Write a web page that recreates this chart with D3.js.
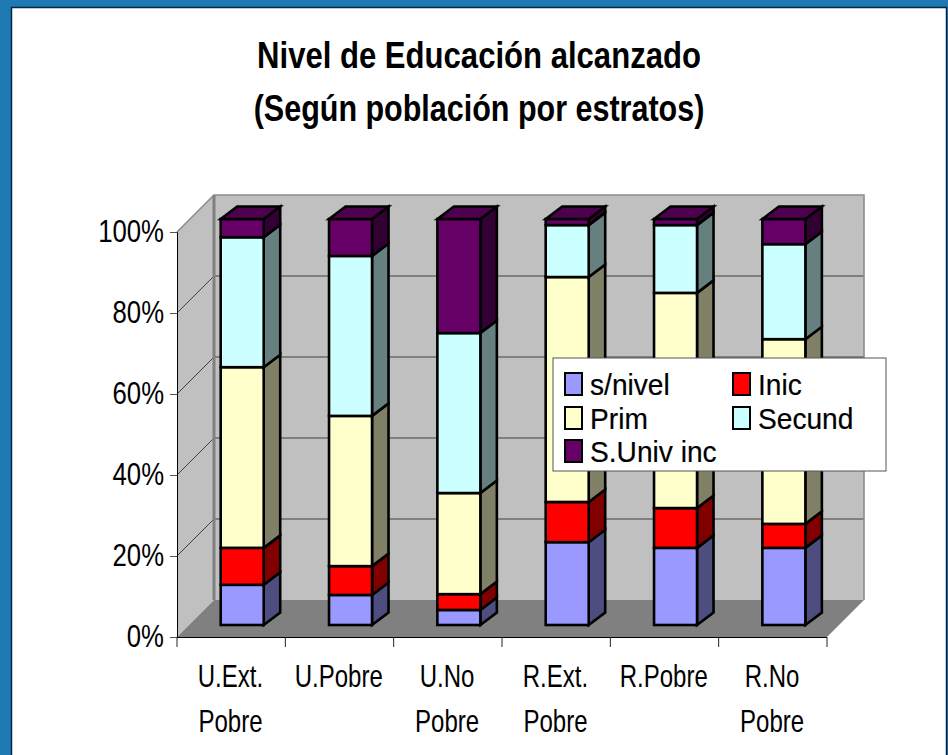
<!DOCTYPE html>
<html><head><meta charset="utf-8">
<script src="https://cdnjs.cloudflare.com/ajax/libs/d3/7.8.5/d3.min.js"></script>
<style>html,body{margin:0;padding:0;background:#fff}svg{display:block}text{font-family:"Liberation Sans",Arial,sans-serif;fill:#000}</style>
</head><body><svg id="c" width="948" height="755"></svg>
<script>
const titleLines = ["Nivel de Educación alcanzado", "(Según población por estratos)"];
const categories = [["U.Ext.","Pobre"],["U.Pobre",""],["U.No","Pobre"],["R.Ext.","Pobre"],["R.Pobre",""],["R.No","Pobre"]];
const seriesNames = ["s/nivel","Inic","Prim","Secund","S.Univ inc"];
const sNivel = [9.9,7.4,3.7,20.4,19.0,19.0];
const inic   = [9.1,7.1,3.9,9.9,9.8,5.9];
const prim   = [44.5,37.0,24.9,55.4,53.0,45.5];
const secund = [32.0,39.4,39.4,12.8,16.7,23.4];
const sUniv  = [4.5,9.1,28.1,1.5,1.5,6.2];
const yTicks = [0,20,40,60,80,100];

const front = ["#9999ff","#ff0000","#ffffcc","#ccffff","#660066"];
const side  = ["#4d4d80","#800000","#808066","#668080","#330033"];
const topFace = "#4d004d";

const svg = d3.select("#c");
svg.append("rect").attr("width",948).attr("height",755).attr("fill","#1f7ab3");
svg.append("path").attr("d","M11.5 755V7.5H946.5V755").attr("fill","#fff").attr("stroke","#04264a").attr("stroke-width",1.5);

const L=177,R=827,B=637,T=232,D=37;
const band = d3.scaleBand().domain(categories.map((d,i)=>i)).range([L,R]);
const yAxisScale = d3.scaleLinear().domain([0,100]).range([B,T]);
const yBar = d3.scaleLinear().domain([0,100]).range([625,219]);
const wallY = v => yAxisScale(v)-D;

const poly=(pts,fill)=>svg.append("polygon").attr("points",pts.map(p=>p.join(",")).join(" ")).attr("fill",fill);
poly([[L,T],[L+D,T-D],[L+D,B-D],[L,B]],"#c0c0c0");
poly([[L+D,T-D],[R+D,T-D],[R+D,B-D],[L+D,B-D]],"#c0c0c0");
poly([[L,B],[L+D,B-D],[R+D,B-D],[R,B]],"#808080");
svg.append("g").selectAll("path").data(yTicks.slice(1,5)).join("path")
  .attr("d",v=>`M${L} ${yAxisScale(v)}L${L+D} ${wallY(v)}H${R+D}`)
  .attr("fill","none").attr("stroke","#404040").attr("stroke-width",1);
svg.append("path").attr("d",`M${L} ${T}L${L+D} ${T-D}H${R+D}V${B-D}`).attr("fill","none").attr("stroke","#8c8c8c").attr("stroke-width",1.6);
svg.append("path").attr("d",`M${L+D} ${T-D}V${B-D}`).attr("stroke","#808080").attr("stroke-width",3);

const rows = categories.map((c,i)=>({i,a:sNivel[i],b:inic[i],c:prim[i],d:secund[i],e:sUniv[i]}));
const keys=["a","b","c","d","e"];
const stack=d3.stack().keys(keys)(rows);
const barOffset=43.7, barW=43, dx=16.5, dy=12.5;
const gBars=svg.append("g").attr("stroke","#000").attr("stroke-width",2.6).attr("stroke-linejoin","miter");
stack.forEach((s,k)=>{
  const g=gBars.append("g");
  s.forEach(d=>{
    const x0=band(d.data.i)+barOffset, x1=x0+barW, y0=yBar(d[0]), y1=yBar(d[1]);
    g.append("polygon").attr("fill",side[k]).attr("points",`${x1},${y0} ${x1+dx},${y0-dy} ${x1+dx},${y1-dy} ${x1},${y1}`);
    g.append("rect").attr("fill",front[k]).attr("x",x0).attr("y",y1).attr("width",barW).attr("height",y0-y1);
    if(k===keys.length-1) g.append("polygon").attr("fill",topFace).attr("points",`${x0},${y1} ${x0+dx},${y1-dy} ${x1+dx},${y1-dy} ${x1},${y1}`);
  });
});

const squeeze=(sel,f)=>sel.each(function(){const n=this.getComputedTextLength();if(n>0){this.setAttribute("textLength",n*f);this.setAttribute("lengthAdjust","spacingAndGlyphs");}});

const yAxis=svg.append("g").attr("transform",`translate(${L},0)`).call(d3.axisLeft(yAxisScale).tickValues(yTicks).tickFormat(d=>d+"%").tickSize(7).tickPadding(6));
yAxis.select(".domain").attr("stroke","#000");
yAxis.selectAll("line").attr("stroke","#555");
yAxis.selectAll("text").attr("font-size",31).attr("dy","0.29em").call(squeeze,0.83);

const xAxis=svg.append("g").attr("transform",`translate(0,${B})`);
xAxis.append("path").attr("d",`M${L} 0.5H${R}`).attr("stroke","#000").attr("stroke-width",1.2);
xAxis.selectAll("line").data(d3.range(7)).join("line")
  .attr("x1",i=>L+i*band.step()).attr("x2",i=>L+i*band.step()).attr("y1",0).attr("y2",10).attr("stroke","#222");
categories.forEach((c,i)=>{
  const cx=band(i)+band.bandwidth()/2-0.7;
  c.forEach((t,j)=>{ if(t) svg.append("text").attr("x",cx).attr("y",687+j*45).attr("text-anchor","middle").attr("font-size",32).text(t).call(squeeze,0.75); });
});

const titleFit=[0.84,0.824];
titleLines.forEach((t,i)=>svg.append("text").attr("x",479).attr("y",68+i*52.5).attr("text-anchor","middle").attr("font-size",37).attr("font-weight","bold").text(t).call(squeeze,titleFit[i]));

const lg=svg.append("g");
lg.append("rect").attr("x",553).attr("y",358).attr("width",333).attr("height",113).attr("fill","#fff").attr("stroke","#555").attr("stroke-width",1);
const lx=[565,733], ly=[373,407,440];
seriesNames.forEach((n,i)=>{
  const cx=lx[i%2], cy=ly[Math.floor(i/2)];
  lg.append("rect").attr("x",cx).attr("y",cy).attr("width",17).attr("height",22).attr("fill",front[i]).attr("stroke","#000").attr("stroke-width",2);
  lg.append("text").attr("x",cx+25).attr("y",cy+22).attr("font-size",29).attr("stroke","#000").attr("stroke-width",0.2).text(n).call(squeeze,0.97);
});
</script></body></html>
